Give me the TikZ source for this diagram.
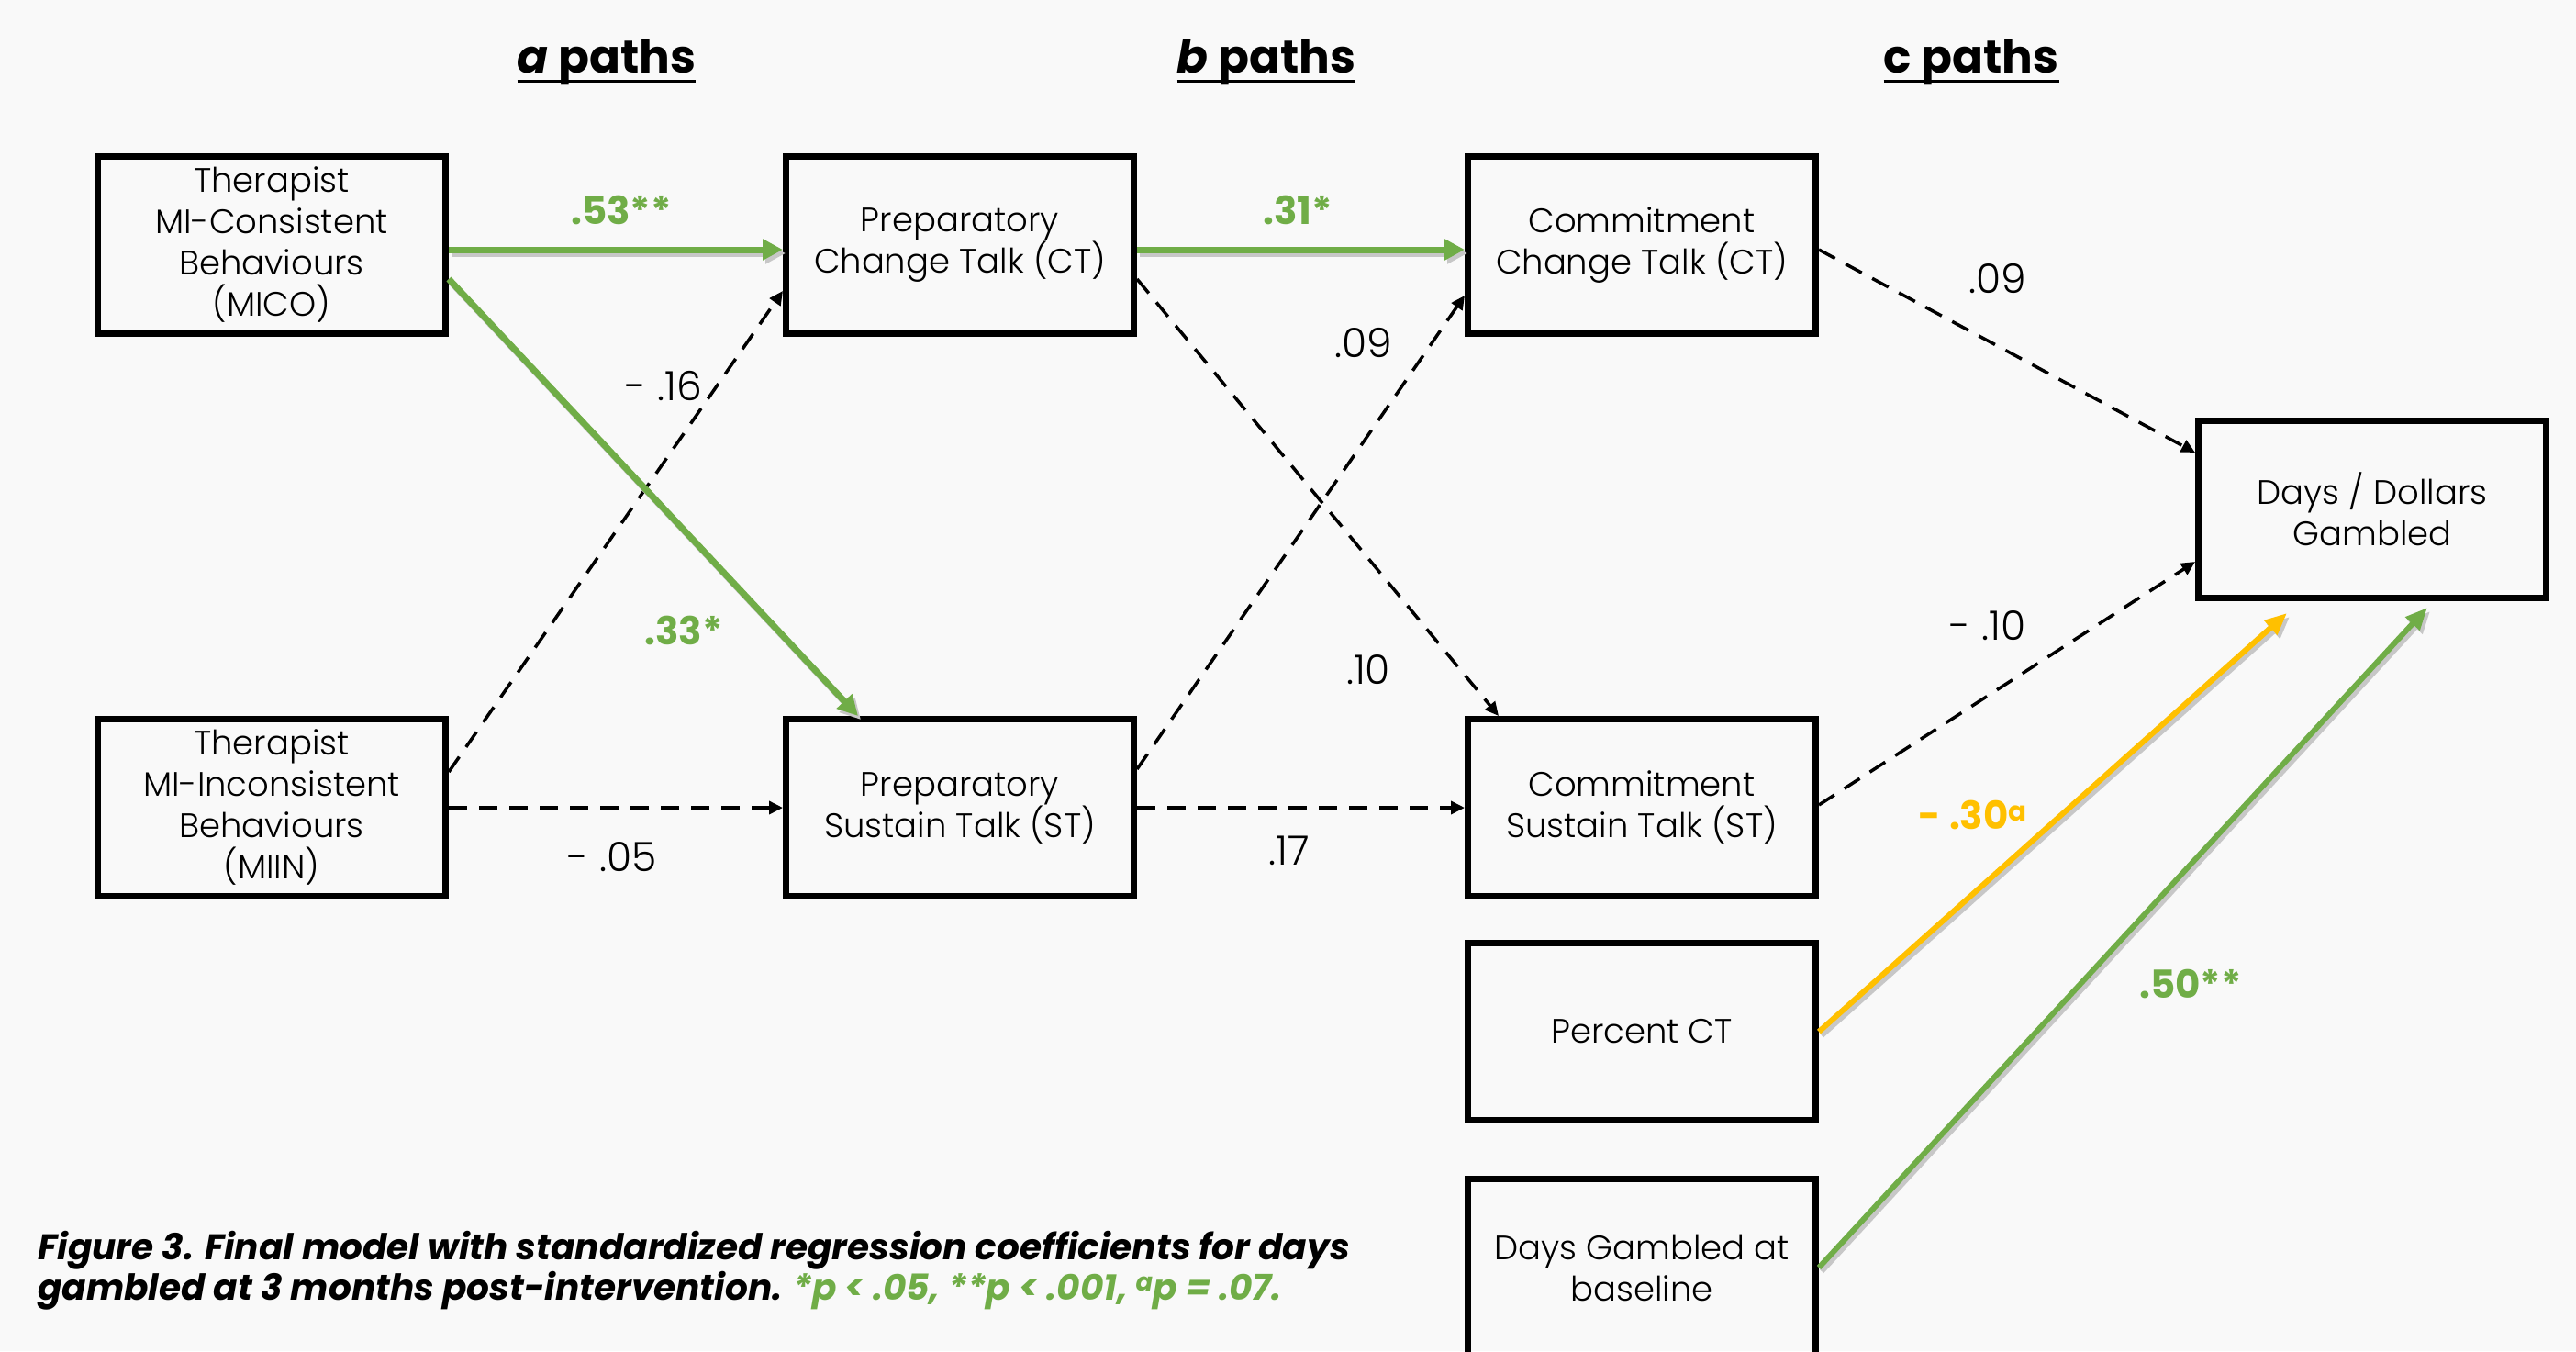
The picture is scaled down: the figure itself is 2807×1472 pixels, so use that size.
\documentclass[tikz,border=0pt]{standalone}
\usepackage{fontspec}
\setmainfont{Poppins}
\newfontfamily\lightfont{Poppins Light}
\usetikzlibrary{arrows.meta,calc}
\definecolor{bg}{HTML}{F9F9F9}
\definecolor{mygreen}{HTML}{70AD47}
\definecolor{myyellow}{HTML}{FFC000}
\begin{document}
\begin{tikzpicture}[x=1pt,y=-1pt,
 box/.style={draw=black,line width=7pt,minimum width=379pt,minimum height=193pt,inner sep=0pt,align=center,font=\lightfont\fontsize{37}{45}\selectfont},
 lbl/.style={font=\lightfont\fontsize{44}{48}\selectfont,inner sep=0pt},
 glbl/.style={font=\bfseries\fontsize{42}{48}\selectfont,text=mygreen,inner sep=0pt},
 ylbl/.style={font=\bfseries\fontsize{42}{48}\selectfont,text=myyellow,inner sep=0pt},
 ttl/.style={font=\bfseries\fontsize{50}{56}\selectfont,inner sep=0pt,anchor=base},
 garrow/.style={draw=mygreen,line width=7pt,-{Triangle[length=22pt,width=22pt]}},
 gdiag/.style={draw=mygreen,line width=6pt,-{Triangle[length=24pt,width=20pt]}},
 yarrow/.style={draw=myyellow,line width=6pt,-{Triangle[length=24pt,width=20pt]}},
 shad/.style={draw=black!22,transform canvas={xshift=3pt,yshift=-4pt}},
 darrow/.style={draw=black,line width=3.5pt,dash pattern=on 20pt off 13pt,-{Triangle[length=15pt,width=14pt]}},
]
\fill[bg] (0,0) rectangle (2807,1472);
\useasboundingbox (0,0) rectangle (2807,1472);

% titles
\node[ttl] (ta) at (661,80) {\itshape a\upshape{} paths};
\node[ttl] (tb) at (1380,80) {\itshape b\upshape{} paths};
\node[ttl] (tc) at (2148,80) {c paths};
\foreach \t in {ta,tb,tc}{
  \draw[line width=3pt] ([yshift=-8pt]\t.base west) -- ([yshift=-8pt]\t.base east);
}

% boxes
\node[box] (mico) at (296,267) {Therapist\\MI-Consistent\\Behaviours\\(MICO)};
\node[box] (miin) at (296,880) {Therapist\\MI-Inconsistent\\Behaviours\\(MIIN)};
\node[box] (pct) at (1046,267) {Preparatory\\Change Talk (CT)};
\node[box] (pst) at (1046,880) {Preparatory\\Sustain Talk (ST)};
\node[box] (cct) at (1789,267) {Commitment\\Change Talk (CT)};
\node[box] (cst) at (1789,880) {Commitment\\Sustain Talk (ST)};
\node[box] (pctct) at (1789,1124) {Percent CT};
\node[box] (dg) at (1789,1381) {Days Gambled at\\baseline};
\node[box] (days) at (2585,555) {Days / Dollars\\Gambled};

% dashed arrows
\draw[darrow] ([yshift=39pt]miin.east) -- ([yshift=-50pt]pct.west);
\draw[darrow] (miin.east) -- (pst.west);
\draw[darrow] ([yshift=-37pt]pct.east) -- ([xshift=-156pt]cst.north);
\draw[darrow] ([yshift=42pt]pst.east) -- ([yshift=-55pt]cct.west);
\draw[darrow] (pst.east) -- (cst.west);
\draw[darrow] ([yshift=-5pt]cct.east) -- ([yshift=62pt]days.west);
\draw[darrow] ([yshift=3pt]cst.east) -- ([yshift=-57pt]days.west);

% coloured arrows with shadow
\draw[garrow,shad] ([yshift=-5pt]mico.east) -- ([yshift=-5pt]pct.west);
\draw[garrow] ([yshift=-5pt]mico.east) -- ([yshift=-5pt]pct.west);
\draw[garrow,shad] ([yshift=-37pt]mico.east) -- ([xshift=-111pt]pst.north);
\draw[garrow] ([yshift=-37pt]mico.east) -- ([xshift=-111pt]pst.north);
\draw[garrow,shad] ([yshift=-5pt]pct.east) -- ([yshift=-5pt]cct.west);
\draw[garrow] ([yshift=-5pt]pct.east) -- ([yshift=-5pt]cct.west);
\draw[yarrow,shad] (pctct.east) -- ([xshift=-93pt,yshift=-13pt]days.south);
\draw[yarrow] (pctct.east) -- ([xshift=-93pt,yshift=-13pt]days.south);
\draw[gdiag,shad] (dg.east) -- ([xshift=60pt,yshift=-7pt]days.south);
\draw[gdiag] (dg.east) -- ([xshift=60pt,yshift=-7pt]days.south);

% labels
\node[glbl] (l1) at (677,229) {.53**};
\node[glbl] (l2) at (1414,229) {.31*};
\node[lbl] (l3) at (723,421) {- .16};
\node[glbl] (l4) at (745,687) {.33*};
\node[lbl] (l5) at (667,934) {- .05};
\node[lbl] (l6) at (1486,374) {.09};
\node[lbl] (l7) at (1491,730) {.10};
\node[lbl] (l8) at (1405,927) {.17};
\node[lbl] (l9) at (2177,304) {.09};
\node[lbl] (l10) at (2166,682) {- .10};
\node[ylbl] (l11) at (2150,888) {- .30\textsuperscript{a}};
\node[glbl] (l12) at (2387,1072) {.50**};

% caption
\node[anchor=base west,align=left,inner sep=0pt,font=\bfseries\itshape\fontsize{39}{44}\selectfont] (cap) at (41,1416)
 {Figure 3. Final model with standardized regression coefficients for days\\
  gambled at 3 months post-intervention. \textcolor{mygreen}{*p < .05, **p < .001, \textsuperscript{a}p = .07.}};
\end{tikzpicture}
\end{document}
